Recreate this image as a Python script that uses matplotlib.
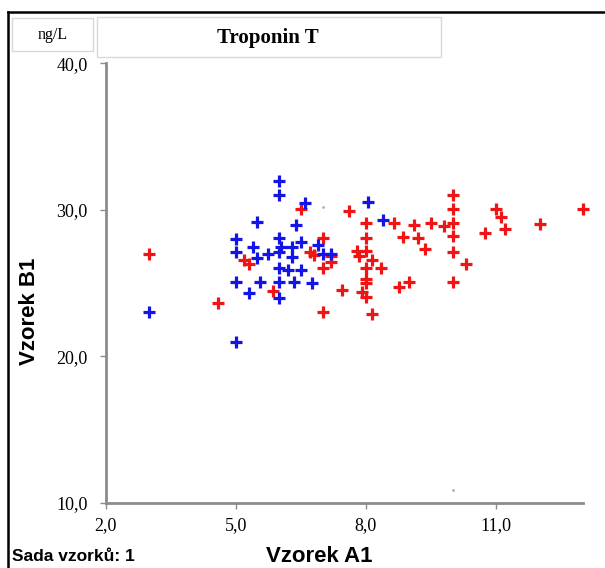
import matplotlib.pyplot as plt
from matplotlib.lines import Line2D
from matplotlib.patches import Rectangle

# Troponin T, sample A1 vs sample B1 (ng/L)
blue_x = [6.0, 6.0, 6.6, 5.5, 6.4, 5.0, 6.0, 6.5, 5.4, 6.05, 6.3, 6.9, 5.0, 5.75, 6.0,
          7.0, 7.2, 5.5, 6.3, 6.0, 6.2, 6.5, 5.0, 5.55, 6.0, 6.35, 6.75, 5.3, 6.0, 3.0,
          5.0, 8.05, 8.4]
blue_y = [32.0, 31.0, 30.5, 29.2, 29.0, 28.0, 28.1, 27.8, 27.5, 27.5, 27.5, 27.6, 27.1, 27.0, 27.1,
          27.0, 27.0, 26.7, 26.8, 26.0, 25.9, 25.9, 25.1, 25.1, 25.1, 25.1, 25.0, 24.3, 24.0, 23.0,
          21.0, 30.55, 29.3]

red_x = [3.0, 4.6, 5.2, 5.3, 5.85, 6.5, 6.7, 6.8, 7.0, 7.0, 7.0, 7.2, 7.2, 7.45, 7.6,
         7.8, 7.85, 7.9, 8.0, 8.0, 8.0, 8.0, 8.0, 8.0, 8.0, 8.15, 8.15, 8.35, 8.65, 8.75,
         8.85, 9.0, 9.1, 9.2, 9.35, 9.5, 9.8, 10.0, 10.0, 10.0, 10.0, 10.0, 10.0, 10.3, 10.75,
         11.0, 11.1, 11.2, 12.0, 13.0]
red_y = [27.0, 23.65, 26.55, 26.3, 24.45, 30.05, 27.1, 26.9, 28.1, 26.0, 23.0, 26.85, 26.45, 24.55, 29.9,
         27.2, 26.85, 24.4, 29.1, 28.1, 27.2, 26.05, 25.25, 25.0, 24.05, 22.9, 26.6, 26.0, 29.1, 24.75,
         28.15, 25.1, 29.0, 28.1, 27.3, 29.1, 28.9, 31.0, 30.05, 29.1, 28.2, 27.1, 25.1, 26.3, 28.45,
         30.05, 29.5, 28.7, 29.05, 30.05]

grey_x = [7.0, 10.0]
grey_y = [30.2, 10.9]

x_ticks = [2, 5, 8, 11]
y_ticks = [10, 20, 30, 40]

fig = plt.figure(figsize=(6.05, 5.68), dpi=100)
ax = fig.add_axes([0.1744, 0.1144, 0.7892, 0.7742])

ax.scatter(red_x, red_y, marker='+', s=70, linewidths=2.3, color='#f01414', clip_on=False, zorder=3)
ax.scatter(blue_x, blue_y, marker='+', s=70, linewidths=2.3, color='#1414e6', clip_on=False, zorder=4)
ax.scatter(grey_x, grey_y, marker='.', s=4, color='#b0b0b0', zorder=2)

ax.set_xlim(2, 13)
ax.set_ylim(10, 40)
ax.set_xticks(x_ticks)
ax.set_yticks(y_ticks)
ax.set_xticklabels([f'{t:.1f}'.replace('.', ',') for t in x_ticks])
ax.set_yticklabels([f'{t:.1f}'.replace('.', ',') for t in y_ticks])

for side in ['top', 'right']:
    ax.spines[side].set_visible(False)
for side in ['left', 'bottom']:
    ax.spines[side].set_color('#8c8c8c')
    ax.spines[side].set_linewidth(2)
ax.tick_params(direction='out', length=4, width=1, color='#8c8c8c', labelsize=13)
ax.tick_params(axis='y', pad=9)
ax.tick_params(axis='x', pad=6)
for lab in ax.get_xticklabels() + ax.get_yticklabels():
    lab.set_family('Liberation Serif')

fig.text(0.048, 0.452, 'Vzorek B1', rotation=90, ha='center', va='center',
         fontsize=16, fontweight='bold', family='Liberation Sans')
fig.text(0.527, 0.021, 'Vzorek A1', ha='center', va='center',
         fontsize=16, fontweight='bold', family='Liberation Sans')
fig.text(0.02, 0.021, 'Sada vzorků: 1', ha='left', va='center',
         fontsize=12.5, fontweight='bold', family='Liberation Sans')

# header boxes
fig.add_artist(Rectangle((0.0198, 0.9102), 0.134, 0.0581, transform=fig.transFigure,
                         facecolor='white', edgecolor='#d8d8d8', linewidth=1))
fig.text(0.0876, 0.9384, 'ng/L', ha='center', va='center', fontsize=11.5,
         family='Liberation Serif')
fig.add_artist(Rectangle((0.1603, 0.8996), 0.5686, 0.0704, transform=fig.transFigure,
                         facecolor='white', edgecolor='#d8d8d8', linewidth=1))
fig.text(0.443, 0.9335, 'Troponin T', ha='center', va='center', fontsize=15,
         fontweight='bold', family='Liberation Serif')

# outer frame (left and top)
fig.add_artist(Line2D([0.0132, 0.0132], [0.0, 0.979], transform=fig.transFigure,
                      color='black', linewidth=1.8))
fig.add_artist(Line2D([0.0132, 1.0], [0.979, 0.979], transform=fig.transFigure,
                      color='black', linewidth=1.8))

fig.savefig('out.png', dpi=100)
